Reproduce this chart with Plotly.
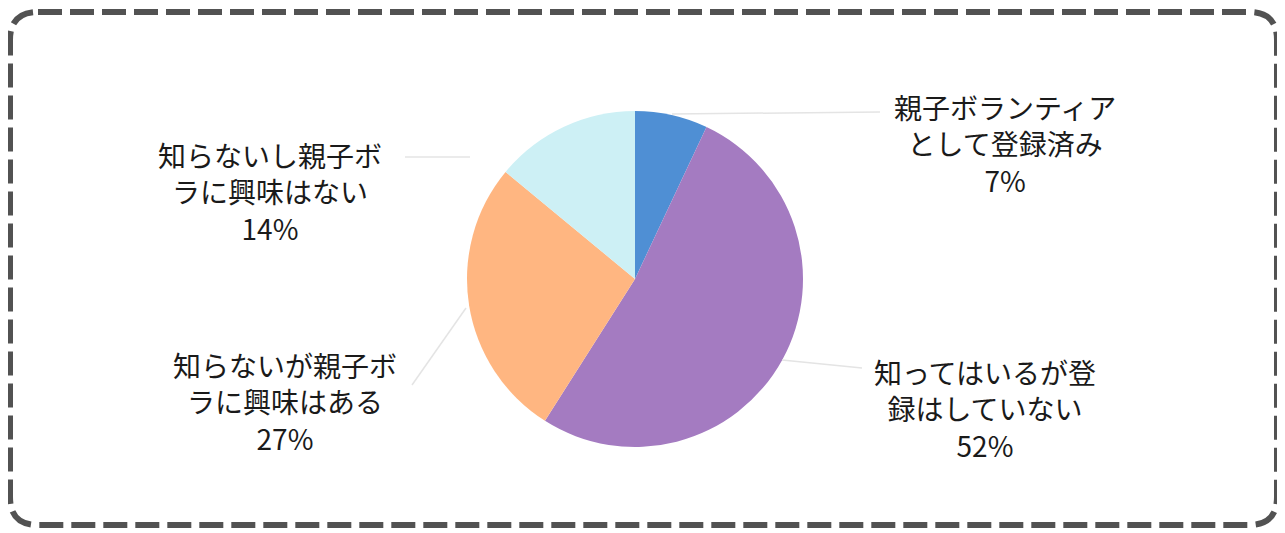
import plotly.graph_objects as go

W, H = 1285, 533
OFF = 8  # page body margin shifts the figure

categories = ["親子ボランティア<br>として登録済み", "知ってはいるが登<br>録はしていない",
              "知らないが親子ボ<br>ラに興味はある", "知らないし親子ボ<br>ラに興味はない"]
values = [7, 52, 27, 14]
colors = ["#4f8fd4", "#a47bc1", "#ffb681", "#cdf0f5"]

def fx(px):
    return (px - OFF) / W

def fy(py):
    return 1 - (py - OFF) / H

cx, cy, r = 635, 279, 168

fig = go.Figure(go.Pie(
    labels=categories, values=values, sort=False, direction="clockwise", rotation=0,
    marker=dict(colors=colors, line=dict(width=0)), textinfo="none", hoverinfo="label+percent",
    showlegend=False,
    domain=dict(x=[fx(cx - r), fx(cx + r)], y=[fy(cy + r), fy(cy - r)]),
))

# label positions (pixel centers of label blocks)
label_pos = [(1005, 143), (985, 408), (285, 401), (270, 192)]
font = dict(family="Noto Sans CJK JP", size=28, color="#1a1a1a")
for cat, v, (lx, ly) in zip(categories, values, label_pos):
    fig.add_annotation(x=fx(lx), y=fy(ly), xref="paper", yref="paper",
                       text=f"{cat}<br>{v}%", showarrow=False, font=font,
                       xanchor="center", yanchor="middle", align="center")

# faint leader lines
leaders = [((672, 114), (880, 112)), ((782, 360), (862, 368)),
           ((466, 308), (412, 385)), ((405, 157), (470, 157))]
for (x0, y0), (x1, y1) in leaders:
    fig.add_shape(type="line", xref="paper", yref="paper",
                  x0=fx(x0), y0=fy(y0), x1=fx(x1), y1=fy(y1),
                  line=dict(color="#e4e4e4", width=1.5))

# dashed rounded border
L, T, R, B, c = 10, 12, 1277, 525, 28
path = (f"M {fx(L + c)},{fy(T)} L {fx(R - c)},{fy(T)} Q {fx(R)},{fy(T)} {fx(R)},{fy(T + c)} "
        f"L {fx(R)},{fy(B - c)} Q {fx(R)},{fy(B)} {fx(R - c)},{fy(B)} "
        f"L {fx(L + c)},{fy(B)} Q {fx(L)},{fy(B)} {fx(L)},{fy(B - c)} "
        f"L {fx(L)},{fy(T + c)} Q {fx(L)},{fy(T)} {fx(L + c)},{fy(T)} Z")
fig.add_shape(type="path", xref="paper", yref="paper", path=path,
              line=dict(color="#525252", width=6, dash="24px,8px"))

fig.update_layout(width=W, height=H, margin=dict(l=0, r=0, t=0, b=0),
                  paper_bgcolor="white", plot_bgcolor="white")

fig.write_html("out.html")
